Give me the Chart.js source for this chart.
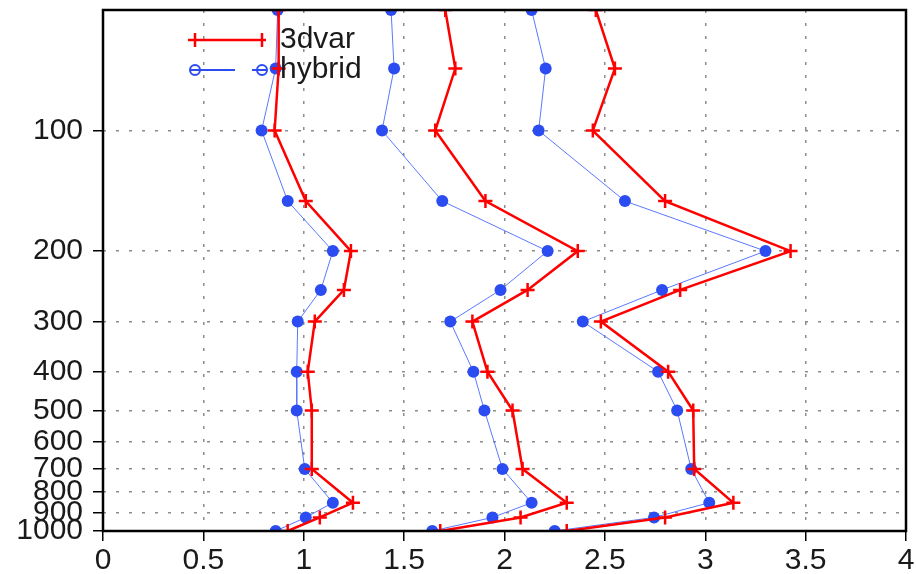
<!DOCTYPE html>
<html>
<head>
<meta charset="utf-8">
<script src="https://cdn.jsdelivr.net/npm/chart.js@4.4.1/dist/chart.umd.min.js"></script>
<style>
  html, body { margin: 0; padding: 0; background: #fff; }
  canvas { display: block; }
</style>
</head>
<body>
<canvas id="chart" width="916" height="574"></canvas>
<script>
// pressure levels (hPa) of the profiles
const levels = [50, 70, 100, 150, 200, 250, 300, 400, 500, 700, 850, 925, 1000];

// three profile groups, each 3dvar vs hybrid
const dvar1   = [0.875, 0.875, 0.855, 1.01, 1.235, 1.2, 1.055, 1.02, 1.04, 1.04, 1.245, 1.08, 0.92];
const hybrid1 = [0.87, 0.86, 0.79, 0.92, 1.145, 1.085, 0.97, 0.965, 0.965, 1.005, 1.145, 1.01, 0.86];
const dvar2   = [1.705, 1.755, 1.655, 1.905, 2.365, 2.115, 1.84, 1.915, 2.04, 2.09, 2.31, 2.08, 1.68];
const hybrid2 = [1.435, 1.45, 1.39, 1.69, 2.215, 1.98, 1.73, 1.845, 1.9, 1.99, 2.135, 1.94, 1.64];
const dvar3   = [2.455, 2.55, 2.44, 2.8, 3.425, 2.875, 2.48, 2.815, 2.94, 2.945, 3.14, 2.8, 2.31];
const hybrid3 = [2.135, 2.205, 2.17, 2.6, 3.3, 2.785, 2.39, 2.765, 2.86, 2.93, 3.02, 2.745, 2.25];

const yTicks = [100, 200, 300, 400, 500, 600, 700, 800, 900, 1000];
const xTicks = [0, 0.5, 1, 1.5, 2, 2.5, 3, 3.5, 4];

const RED = '#ff0000';
const BLUE = '#2a4cf0';
const BLUE_LINE = '#5a78ff';
const FONT = { family: 'Liberation Sans', size: 30 };
const TEXT = '#1a1a1a';

function profile(vals) {
  return vals.map((v, i) => ({ x: v, y: levels[i] }));
}

function dvarSet(vals) {
  return {
    label: '3dvar', data: profile(vals),
    borderColor: RED, borderWidth: 2.5,
    pointStyle: 'cross', pointRadius: 7, pointBorderWidth: 2.5,
    pointBorderColor: RED, pointBackgroundColor: RED,
    showLine: true, clip: 0
  };
}

function hybridSet(vals) {
  return {
    label: 'hybrid', data: profile(vals),
    borderColor: BLUE_LINE, borderWidth: 1,
    pointStyle: 'circle', pointRadius: 6, pointBorderWidth: 0,
    pointBackgroundColor: BLUE,
    showLine: true, clip: 0
  };
}

// black frame round the plot area
const frame = {
  id: 'frame',
  afterDraw(chart) {
    const { ctx, chartArea: a } = chart;
    ctx.save();
    ctx.strokeStyle = '#000';
    ctx.lineWidth = 2.5;
    ctx.strokeRect(a.left, a.top, a.right - a.left, a.bottom - a.top);
    ctx.restore();
  }
};

// legend: short line with a marker at each end
const profileLegend = {
  id: 'profileLegend',
  afterDatasetsDraw(chart) {
    const ctx = chart.ctx;
    const x0 = 195, x1 = 262, tx = 280;
    ctx.save();
    ctx.font = FONT.size + 'px ' + FONT.family;
    ctx.textBaseline = 'middle';
    ctx.fillStyle = TEXT;

    // 3dvar
    let y = 40;
    ctx.strokeStyle = RED;
    ctx.lineWidth = 2.5;
    ctx.beginPath();
    ctx.moveTo(x0 - 7, y); ctx.lineTo(x1 + 4, y);
    [x0, x1].forEach(x => { ctx.moveTo(x, y - 7); ctx.lineTo(x, y + 7); });
    ctx.stroke();
    ctx.fillText('3dvar', tx, y);

    // hybrid
    y = 70;
    ctx.strokeStyle = BLUE;
    ctx.lineWidth = 2;
    ctx.beginPath();
    ctx.moveTo(x0 - 5, y); ctx.lineTo(x0 + 40, y);
    ctx.moveTo(x1 - 10, y); ctx.lineTo(x1 + 5, y);
    ctx.stroke();
    [x0, x1].forEach(x => {
      ctx.beginPath();
      ctx.arc(x, y, 5, 0, Math.PI * 2);
      ctx.stroke();
    });
    ctx.fillText('hybrid', tx, y);
    ctx.restore();
  }
};

new Chart(document.getElementById('chart'), {
  type: 'scatter',
  data: {
    datasets: [
      dvarSet(dvar1), hybridSet(hybrid1),
      dvarSet(dvar2), hybridSet(hybrid2),
      dvarSet(dvar3), hybridSet(hybrid3)
    ]
  },
  options: {
    responsive: false,
    animation: false,
    layout: { padding: { top: 10, right: 10, left: 0, bottom: 0 } },
    plugins: {
      legend: { display: false },
      tooltip: { enabled: false }
    },
    scales: {
      x: {
        type: 'linear',
        min: 0, max: 4,
        afterBuildTicks: s => { s.ticks = xTicks.map(v => ({ value: v })); },
        afterFit: s => { s.height = 43; s.paddingLeft = 0; s.paddingRight = 0; },
        ticks: { font: FONT, color: TEXT, padding: 2, autoSkip: false, maxRotation: 0,
                 callback: v => String(v) },
        grid: { color: '#8c8c8c', lineWidth: 1.5, tickLength: 10,
                tickColor: '#000', tickWidth: 1.5, tickBorderDash: [] },
        border: { display: false, dash: [3, 10] }
      },
      y: {
        type: 'logarithmic',
        reverse: true,
        min: 50, max: 1000,
        afterBuildTicks: s => { s.ticks = yTicks.map(v => ({ value: v })); },
        afterFit: s => { s.width = 103; s.paddingTop = 0; s.paddingBottom = 0; },
        ticks: { font: FONT, color: TEXT, padding: 10, autoSkip: false,
                 callback: v => String(v) },
        grid: { color: '#8c8c8c', lineWidth: 1.5, tickLength: 10,
                tickColor: '#000', tickWidth: 1.5, tickBorderDash: [] },
        border: { display: false, dash: [3, 10] }
      }
    }
  },
  plugins: [profileLegend, frame]
});
</script>
</body>
</html>
